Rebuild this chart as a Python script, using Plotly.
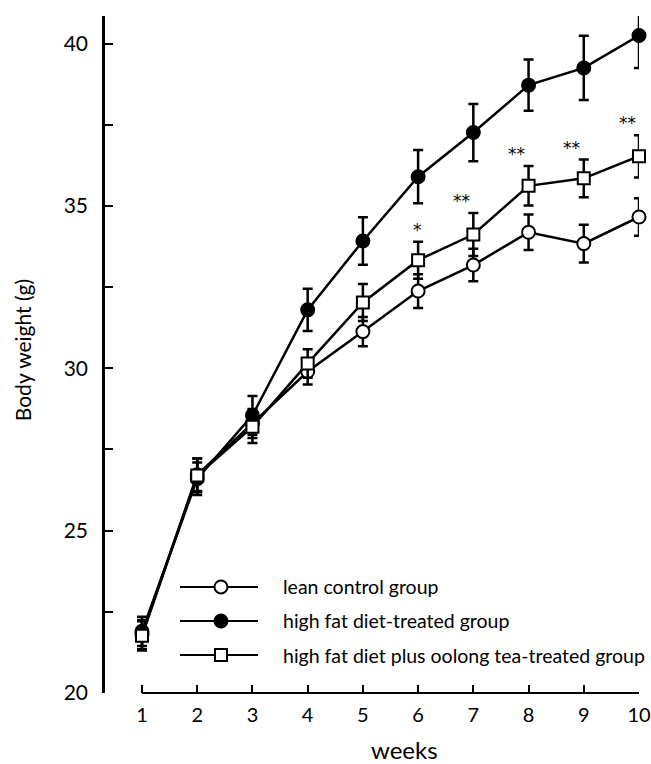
import plotly.graph_objects as go

weeks = [1, 2, 3, 4, 5, 6, 7, 8, 9, 10]

lean_mean = [21.80, 26.72, 28.30, 29.90, 31.13, 32.38, 33.18, 34.19, 33.84, 34.66]
lean_se = [0.45, 0.50, 0.45, 0.40, 0.45, 0.52, 0.50, 0.55, 0.58, 0.58]

hf_mean = [21.90, 26.60, 28.55, 31.80, 33.92, 35.90, 37.26, 38.72, 39.25, 40.25]
hf_se = [0.45, 0.50, 0.60, 0.65, 0.73, 0.82, 0.88, 0.79, 0.99, 1.00]

tea_mean = [21.76, 26.70, 28.20, 30.15, 32.03, 33.33, 34.12, 35.62, 35.85, 36.53]
tea_se = [0.45, 0.52, 0.50, 0.44, 0.57, 0.57, 0.66, 0.61, 0.58, 0.65]

sig_labels = ["", "", "", "", "", "*", "**", "**", "**", "**"]

series_names = ["lean control group", "high fat diet-treated group",
                "high fat diet plus oolong tea-treated group"]

y_ticks = [20, 25, 30, 35, 40]

FONT = "Lato"

fig = go.Figure()

def add_series(y, se, name, fill, symbol, size):
    fig.add_trace(go.Scatter(
        x=weeks, y=y, name=name, mode="lines+markers",
        line=dict(color="black", width=2.5),
        marker=dict(symbol=symbol, size=size, color=fill,
                    line=dict(color="black", width=2)),
        error_y=dict(type="data", array=se, visible=True,
                     color="black", thickness=2.5, width=5),
        cliponaxis=False, showlegend=False,
    ))

add_series(lean_mean, lean_se, series_names[0], "white", "circle", 13)
add_series(hf_mean, hf_se, series_names[1], "black", "circle", 13)
add_series(tea_mean, tea_se, series_names[2], "white", "square", 12)

# significance marks above the tea-group error bars
for w, m, s, lab in zip(weeks, tea_mean, tea_se, sig_labels):
    if lab:
        fig.add_annotation(
            x=w, y=m + s, text=lab, showarrow=False,
            xref="x", yref="y", yanchor="bottom",
            xshift=-1 if len(lab) == 1 else -12, yshift=0,
            font=dict(family="DejaVu Sans", size=17, color="#000000"),
        )

# x baseline spanning only the week range (axis detached from y axis)
fig.add_shape(type="line", xref="x", yref="paper",
              x0=weeks[0], x1=weeks[-1], y0=0, y1=0,
              line=dict(color="black", width=2), layer="above")

# custom legend
rows_y = [0.1566, 0.1064, 0.0561]
fills = ["white", "black", "white"]
kinds = ["circle", "circle", "rect"]
for yy, name, fill, kind in zip(rows_y, series_names, fills, kinds):
    fig.add_shape(type="line", xref="paper", yref="paper",
                  x0=0.1404, x1=0.2865, y0=yy, y1=yy,
                  line=dict(color="black", width=2))
    r = 6.5 if kind == "circle" else 6
    fig.add_shape(type=kind, xref="paper", yref="paper",
                  xsizemode="pixel", ysizemode="pixel",
                  xanchor=0.2172, yanchor=yy,
                  x0=-r, x1=r, y0=-r, y1=r,
                  fillcolor=fill, line=dict(color="black", width=2))
    fig.add_annotation(x=0.3296, y=yy, xref="paper", yref="paper",
                       text=name, showarrow=False, xanchor="left",
                       yanchor="middle",
                       font=dict(family=FONT, size=19.5, color="black"))

# axis titles
fig.add_annotation(x=0.56, y=-0.083, xref="paper", yref="paper",
                   text="weeks", showarrow=False, yanchor="middle",
                   font=dict(family=FONT, size=24, color="black"))
fig.add_annotation(x=-0.154, y=0.506, xref="paper", yref="paper",
                   text="Body weight (g)", showarrow=False, textangle=-90,
                   xanchor="center", yanchor="middle",
                   font=dict(family=FONT, size=21, color="black"))

x_left = weeks[0] - 37 / 55.22  # y axis sits ~37 px left of week 1

fig.update_layout(
    width=651, height=764,
    margin=dict(l=105, r=12, t=16, b=71),
    paper_bgcolor="white", plot_bgcolor="white",
    font=dict(family=FONT, color="black"),
    xaxis=dict(
        range=[x_left, weeks[-1]], automargin=False,
        tickvals=weeks, ticktext=[str(w) for w in weeks],
        showline=False,
        ticks="inside", ticklen=8, tickwidth=2, tickcolor="black",
        showgrid=False, zeroline=False,
        tickfont=dict(family=FONT, size=20, color="black"),
        ticklabelstandoff=8,
    ),
    yaxis=dict(
        range=[20, 40.85], automargin=False,
        tickvals=y_ticks, ticktext=[str(v) for v in y_ticks],
        showline=True, linecolor="black", linewidth=2.5,
        ticks="inside", ticklen=8, tickwidth=2, tickcolor="black",
        minor=dict(dtick=2.5, tick0=20, ticks="inside", ticklen=8,
                   tickwidth=2, tickcolor="black", showgrid=False),
        showgrid=False, zeroline=False,
        tickfont=dict(family=FONT, size=21, color="black"),
        ticklabelstandoff=10,
    ),
)

fig.write_html("out.html",
               config={"displayModeBar": False},
               post_script="document.body.style.margin='0';"
                           "document.body.style.overflow='hidden';")
